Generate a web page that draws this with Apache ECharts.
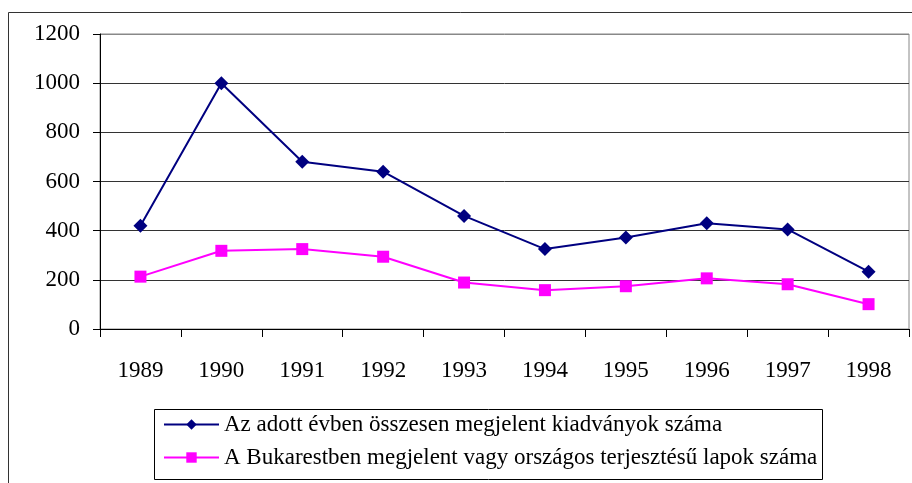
<!DOCTYPE html>
<html>
<head>
<meta charset="utf-8">
<script src="https://cdn.jsdelivr.net/npm/echarts@6/dist/echarts.min.js"></script>
<style>html,body{margin:0;padding:0;background:#fff;}#c{width:912px;height:483px;}</style>
</head>
<body>
<div id="c"></div>
<script>
var years = ['1989','1990','1991','1992','1993','1994','1995','1996','1997','1998'];
var seriesNames = ['Az adott évben összesen megjelent kiadványok száma',
                   'A Bukarestben megjelent vagy országos terjesztésű lapok száma'];
var totalPublications = [420, 1000, 680, 640, 460, 325, 372, 430, 405, 233];
var bucharestPapers = [213, 318, 325, 294, 189, 158, 174, 206, 182, 101];

var font = 'Liberation Serif';
var chart = echarts.init(document.getElementById('c'), null, {renderer: 'canvas'});
chart.setOption({
  animation: false,
  backgroundColor: '#fff',
  graphic: [
    {type: 'rect', shape: {x: 8.5, y: 12.5, width: 1000, height: 1000}, style: {fill: 'none', stroke: '#333', lineWidth: 1}, silent: true, z: -1},
    {type: 'rect', shape: {x: 154.5, y: 409.5, width: 668, height: 70}, style: {fill: 'none', stroke: '#000', lineWidth: 1}, silent: true}
  ],
  grid: {left: 100, top: 34, right: 3, bottom: 154, show: true, borderColor: '#888', borderWidth: 1, backgroundColor: 'transparent'},
  legend: {
    orient: 'vertical', left: 163, top: 413, padding: 0,
    itemWidth: 55, itemHeight: 13, itemGap: 10,
    textStyle: {fontFamily: font, fontSize: 23, color: '#000', lineHeight: 23},
    data: seriesNames
  },
  xAxis: {
    type: 'category', data: years, boundaryGap: true,
    axisLine: {lineStyle: {color: '#000', width: 1}},
    axisTick: {show: true, length: 8, lineStyle: {color: '#000'}},
    axisLabel: {fontFamily: font, fontSize: 23, color: '#000', margin: 30},
    splitLine: {show: false}
  },
  yAxis: {
    type: 'value', min: 0, max: 1200, interval: 200,
    axisLine: {show: true, lineStyle: {color: '#000', width: 1}},
    axisTick: {show: true, length: 7, lineStyle: {color: '#000'}},
    axisLabel: {fontFamily: font, fontSize: 23, color: '#000', margin: 20, formatter: function (v) { return String(v); }},
    splitLine: {show: true, lineStyle: {color: ['#000','#333','#333','#333','#333','#333','#888'], width: 1}}
  },
  series: [
    {name: seriesNames[0], type: 'line', data: totalPublications, symbol: 'diamond', symbolSize: 14,
     lineStyle: {color: '#000080', width: 2}, itemStyle: {color: '#000080'}},
    {name: seriesNames[1], type: 'line', data: bucharestPapers, symbol: 'rect', symbolSize: 12,
     lineStyle: {color: '#FF00FF', width: 2}, itemStyle: {color: '#FF00FF'}}
  ]
});
</script>
</body>
</html>
